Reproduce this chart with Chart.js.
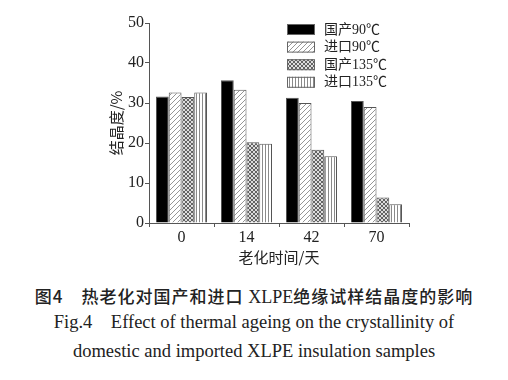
<!DOCTYPE html>
<html>
<head>
<meta charset="utf-8">
<script src="https://cdn.jsdelivr.net/npm/chart.js@4.4.0/dist/chart.umd.min.js"></script>
<style>
  body { margin: 0; background: #fff; width: 508px; height: 380px; overflow: hidden; }
  #wrap { position: relative; width: 508px; height: 270px; }
  .cap { position: absolute; left: 0; width: 508px; text-align: center; color: #222; white-space: nowrap; }
  #cap1 { top: 283px; font-family: "Noto Sans CJK SC", sans-serif; font-size: 17px; font-weight: 500; letter-spacing: 1px; }
  #cap1 span { font-family: "Liberation Serif", serif; font-size: 18px; font-weight: 400; letter-spacing: 0; }
  #cap2 { top: 312px; font-family: "Liberation Serif", serif; font-size: 18.5px; }
  #cap3 { top: 341px; font-family: "Liberation Serif", serif; font-size: 18.5px; }
</style>
</head>
<body>
<div id="wrap"><canvas id="chart" width="508" height="270"></canvas></div>
<div class="cap" id="cap1">图4　热老化对国产和进口 <span>XLPE</span>绝缘试样结晶度的影响</div>
<div class="cap" id="cap2">Fig.4&nbsp;&nbsp;&nbsp;&nbsp;Effect of thermal ageing on the crystallinity of</div>
<div class="cap" id="cap3">domestic and imported XLPE insulation samples</div>
<script>
// ageing days on the x axis
const days = ['0', '14', '42', '70'];
// crystallinity (%) per sample
const domestic90 = [31.6, 35.7, 31.3, 30.5];
const imported90 = [32.6, 33.3, 30.0, 29.0];
const domestic135 = [31.5, 20.2, 18.3, 6.4];
const imported135 = [32.6, 19.8, 16.7, 4.7];
const seriesLabels = ['国产90℃', '进口90℃', '国产135℃', '进口135℃'];
const yTicks = [0, 10, 20, 30, 40, 50];

function makePattern(kind) {
    const c = document.createElement('canvas');
    const ctx = c.getContext('2d');
    if (kind === 'diag') {
        c.width = 5; c.height = 5;
        ctx.fillStyle = '#fff'; ctx.fillRect(0, 0, 5, 5);
        ctx.strokeStyle = '#8a8a8a'; ctx.lineWidth = 0.9;
        ctx.beginPath();
        ctx.moveTo(0, 5); ctx.lineTo(5, 0);
        ctx.moveTo(-1, 1); ctx.lineTo(1, -1);
        ctx.moveTo(4, 6); ctx.lineTo(6, 4);
        ctx.stroke();
    } else if (kind === 'cross') {
        c.width = 4; c.height = 4;
        ctx.fillStyle = '#ddd'; ctx.fillRect(0, 0, 4, 4);
        ctx.strokeStyle = '#444'; ctx.lineWidth = 0.8;
        ctx.beginPath();
        ctx.moveTo(0, 4); ctx.lineTo(4, 0);
        ctx.moveTo(0, 0); ctx.lineTo(4, 4);
        ctx.stroke();
    } else {
        c.width = 3; c.height = 3;
        ctx.fillStyle = '#fff'; ctx.fillRect(0, 0, 3, 3);
        ctx.fillStyle = '#8a8a8a'; ctx.fillRect(1, 0, 1, 3);
    }
    return ctx.createPattern(c, 'repeat');
}

const fills = ['#000', makePattern('diag'), makePattern('cross'), makePattern('vert')];
const values = [domestic90, imported90, domestic135, imported135];

// legend drawn at the upper right inside the plot
const boxLegend = {
    id: 'boxLegend',
    afterDraw(chart) {
        const ctx = chart.ctx;
        ctx.save();
        seriesLabels.forEach((lab, i) => {
            const y = 24 + i * 17.6;
            ctx.fillStyle = fills[i];
            ctx.fillRect(287, y, 28, 11);
            ctx.strokeStyle = '#666';
            ctx.lineWidth = 1;
            ctx.strokeRect(287.5, y + 0.5, 27, 10);
            ctx.fillStyle = '#222';
            ctx.font = '14px "Liberation Serif", "Noto Sans CJK SC", serif';
            ctx.textBaseline = 'middle';
            ctx.fillText(lab, 324, y + 6);
        });
        ctx.restore();
    }
};

new Chart(document.getElementById('chart'), {
    type: 'bar',
    data: {
        labels: days,
        datasets: values.map((v, i) => ({
            label: seriesLabels[i],
            data: v,
            backgroundColor: fills[i],
            borderColor: '#555',
            borderWidth: 1,
            borderSkipped: 'bottom',
            categoryPercentage: 0.785,
            barPercentage: 1.0
        }))
    },
    options: {
        responsive: false,
        animation: false,
        layout: { padding: { left: 103, right: 99, top: 23, bottom: 0 } },
        plugins: { legend: { display: false }, tooltip: { enabled: false } },
        scales: {
            x: {
                grid: { display: true, drawOnChartArea: false, tickLength: 4, color: '#555' },
                border: { color: '#555', width: 1 },
                ticks: { color: '#222', font: { family: 'Liberation Serif', size: 16 }, padding: 1 },
                title: { display: true, text: '老化时间/天', color: '#222',
                         font: { family: 'Noto Sans CJK SC', size: 15 }, padding: { top: -3 } },
                afterFit(scale) { scale.height = 47; }
            },
            y: {
                min: 0, max: 50,
                afterBuildTicks(scale) { scale.ticks = yTicks.map(v => ({ value: v })); },
                grid: { display: true, drawOnChartArea: false, tickLength: 4, color: '#555' },
                border: { color: '#555', width: 1 },
                ticks: { color: '#222', font: { family: 'Liberation Serif', size: 16 }, padding: 1 },
                title: { display: true, text: '结晶度/%', color: '#222',
                         font: { family: 'Noto Sans CJK SC', size: 15 }, padding: { bottom: 2 } },
                afterFit(scale) { scale.width = 46; }
            }
        }
    },
    plugins: [boxLegend]
});
</script>
</body>
</html>
